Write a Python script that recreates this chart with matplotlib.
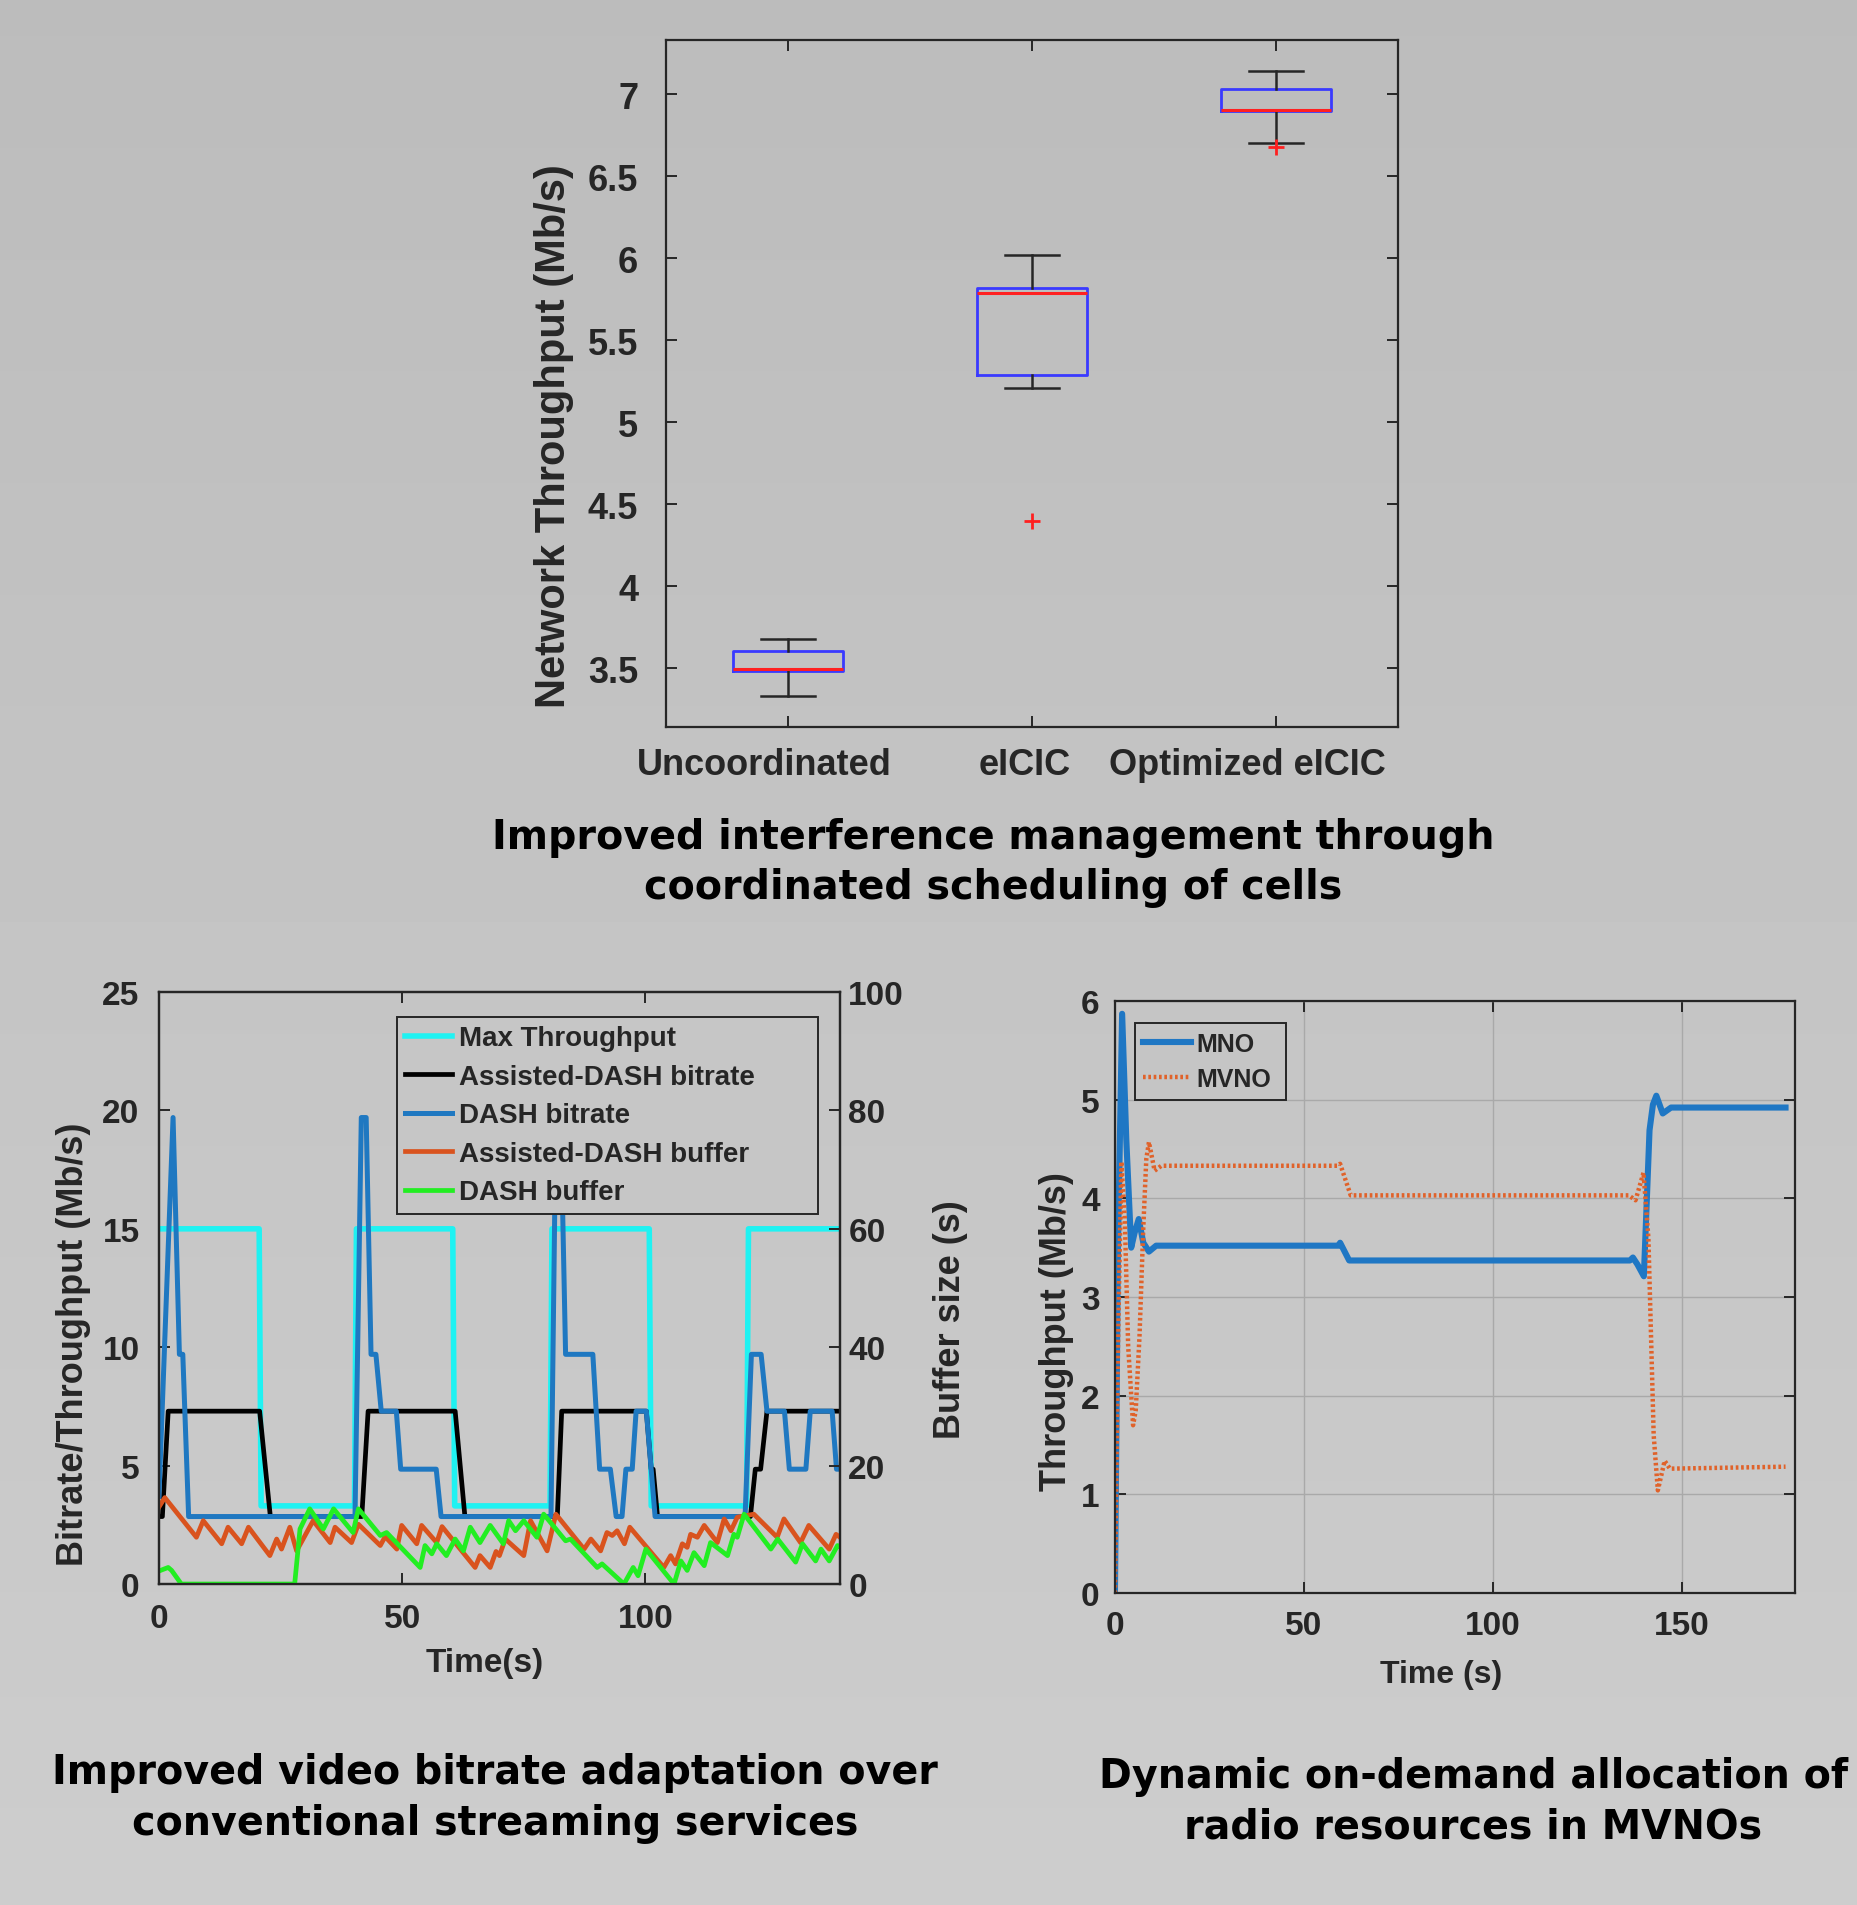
import matplotlib
matplotlib.use("Agg")
import matplotlib.pyplot as plt
import matplotlib.transforms as mtransforms
import numpy as np

# ---------------- data ----------------
# top: box plot of network throughput
box_labels = ["Uncoordinated", "eICIC", "Optimized eICIC"]
box_whislo = [3.33, 5.21, 6.70]
box_q1 = [3.48, 5.285, 6.90]
box_med = [3.495, 5.79, 6.905]
box_q3 = [3.605, 5.82, 7.03]
box_whishi = [3.675, 6.02, 7.14]
box_fliers = [[], [4.40], [6.68]]

# bottom left: DASH comparison
t_max = [0, 20.6, 21.0, 40.2, 40.6, 60.4, 60.8, 80.4, 80.8, 100.8, 101.2, 120.8, 121.2, 140]
max_tp = [15, 15, 3.3, 3.3, 15, 15, 3.3, 3.3, 15, 15, 3.3, 3.3, 15, 15]

t_ad = [0, 0.7, 1.9, 20.7, 22.9, 41.7, 43.0, 60.9, 62.9, 81.9, 82.8, 100.2, 101.2,
        101.6, 102.5, 121.6, 122.6, 123.7, 125.0, 140]
ad_bitrate = [2.85, 2.85, 7.3, 7.3, 2.85, 2.85, 7.3, 7.3, 2.85, 2.85, 7.3, 7.3, 4.85,
              4.85, 2.85, 2.85, 4.85, 4.85, 7.3, 7.3]

t_dash = [0, 2.9, 4.2, 4.9, 6.1,
          40.3, 41.6, 42.6, 43.6, 44.6, 45.7, 48.8, 49.7, 57.0, 58.0,
          80.6, 81.6, 82.6, 83.6, 89.2, 90.6, 92.8, 94.0, 95.2, 96.0, 97.3, 98.1, 100.2, 102.0,
          120.5, 121.8, 123.8, 125.0, 128.6, 129.6, 133.0, 133.9, 138.4, 139.3, 140]
dash_bitrate = [3.7, 19.7, 9.7, 9.7, 2.85,
                2.85, 19.7, 19.7, 9.7, 9.7, 7.3, 7.3, 4.85, 4.85, 2.85,
                2.85, 19.7, 19.7, 9.7, 9.7, 4.85, 4.85, 2.85, 2.85, 4.85, 4.85, 7.3, 7.3, 2.85,
                2.85, 9.7, 9.7, 7.3, 7.3, 4.85, 4.85, 7.3, 7.3, 4.85, 4.85]

t_adbuf = [0, 1.2, 7.7, 9.1, 12.9, 14.2, 17.0, 18.4, 22.8, 24.2, 25.2, 26.9, 28.3, 31.7,
           35.2, 36.2, 39.6, 41.0, 45.5, 46.5, 48.9, 49.9, 53.0, 54.0, 57.1, 58.2, 65.0,
           66.0, 68.1, 69.3, 70.0, 71.2, 75.0, 76.4, 79.8, 81.6, 87.4, 88.8, 90.8, 92.1,
           93.2, 94.2, 95.7, 96.8, 103.8, 105.2, 106.2, 107.6, 108.6, 109.3, 110.7, 112.1,
           114.8, 116.2, 117.6, 118.9, 122.3, 127.1, 128.5, 131.9, 133.6, 137.8, 139.2, 140]
ad_buffer = [13.0, 14.6, 7.9, 10.7, 6.8, 9.6, 6.8, 9.6, 4.8, 7.6, 5.9, 9.6, 5.6, 10.7,
             7.0, 9.6, 7.0, 10.1, 6.5, 8.0, 5.9, 9.9, 6.8, 9.9, 7.0, 9.7, 2.8,
             4.8, 2.8, 5.5, 4.8, 7.6, 4.8, 10.7, 5.6, 11.8, 5.9, 7.6, 5.6, 8.7,
             8.2, 9.0, 6.8, 9.6, 2.8, 4.8, 3.4, 6.8, 6.2, 8.4, 7.9, 9.9,
             7.0, 11.0, 9.0, 11.3, 11.8, 7.9, 11.0, 7.0, 9.9, 5.9, 8.4, 7.9]

t_dbuf = [0, 1.9, 2.6, 4.6, 27.9, 29.0, 31.0, 33.8, 35.9, 39.9, 41.0, 45.5, 46.8, 53.7,
          54.7, 56.1, 57.1, 59.1, 60.9, 62.6, 64.0, 66.0, 68.1, 70.8, 71.9, 73.3, 75.0,
          77.7, 79.1, 83.6, 84.6, 90.1, 91.1, 95.6, 97.5, 98.5, 100.1, 105.9, 107.3, 108.6,
          110.0, 112.1, 113.4, 116.9, 118.2, 118.9, 120.3, 125.8, 127.2, 130.9, 132.3, 135.0,
          136.1, 137.8, 139.5, 140]
dash_buffer = [2.2, 2.8, 2.3, 0, 0, 9.3, 12.7, 9.3, 12.7, 8.7, 12.7, 8.2, 8.7, 2.8,
               6.5, 5.1, 6.8, 4.8, 7.6, 5.6, 9.6, 7.0, 9.9, 6.8, 10.7, 9.0, 10.7,
               7.9, 11.8, 7.3, 7.6, 2.8, 3.4, 0, 2.8, 1.4, 5.9, 0, 3.9, 2.3,
               5.3, 3.1, 7.0, 4.8, 8.4, 7.9, 11.8, 5.9, 7.6, 3.7, 6.8, 3.9,
               5.9, 3.9, 6.5, 6.3]

# bottom right: MNO / MVNO throughput
t_mno = [0, 0.8, 1.9, 3.0, 4.3, 5.2, 6.3, 7.5, 9.0, 10.9, 59.2, 59.6, 62.0, 136.3,
         137.1, 138.3, 140.0, 141.5, 142.4, 143.3, 145.0, 147.2, 177.5]
mno = [0, 3.5, 5.87, 4.6, 3.5, 3.65, 3.79, 3.55, 3.46, 3.52, 3.52, 3.55, 3.37, 3.37,
       3.40, 3.33, 3.21, 4.69, 4.95, 5.04, 4.86, 4.92, 4.92]

t_mvno = [0, 0.8, 1.7, 2.6, 3.5, 4.8, 5.5, 6.5, 7.5, 8.3, 9.0, 10.5, 12.3, 58.8, 59.6,
          62.4, 136.0, 137.8, 139.9, 141.2, 142.6, 143.7, 145.5, 146.9, 177.5]
mvno = [0, 2.5, 4.37, 3.8, 2.5, 1.7, 1.85, 2.6, 3.7, 4.4, 4.57, 4.28, 4.33, 4.33, 4.35,
        4.03, 4.03, 3.98, 4.26, 3.6, 1.6, 1.04, 1.34, 1.26, 1.28]

# ---------------- style ----------------
tick_font = "Liberation Sans"
title_font = "DejaVu Sans"
ink = "#262626"

fig = plt.figure(figsize=(18.57, 19.06), dpi=100)

# gray gradient background
bg = fig.add_axes([0, 0, 1, 1], zorder=-10)
bg.imshow(np.linspace(0.737, 0.804, 256)[:, None], cmap="gray", vmin=0, vmax=1,
          aspect="auto", extent=(0, 1, 0, 1))
bg.set_axis_off()


def style_axes(ax, size):
    ax.set_facecolor("none")
    for sp in ax.spines.values():
        sp.set_color(ink)
        sp.set_linewidth(1.6)
    ax.tick_params(direction="in", length=8, width=1.4, colors=ink,
                   labelsize=size)
    for lab in ax.get_xticklabels() + ax.get_yticklabels():
        lab.set_fontfamily(tick_font)
        lab.set_fontweight("bold")


def title(x, y, s):
    fig.text(x, y, s, ha="center", va="center", multialignment="center",
             fontsize=28.5, fontweight="bold", fontfamily=title_font,
             color="black", linespacing=1.35)


# ---------------- top: box plot ----------------
ax = fig.add_axes([0.3586, 0.6180, 0.3942, 0.3604])
stats = []
for i in range(3):
    stats.append(dict(label=box_labels[i], whislo=box_whislo[i], q1=box_q1[i],
                      med=box_med[i], q3=box_q3[i], whishi=box_whishi[i],
                      fliers=box_fliers[i]))
ax.bxp(stats, positions=[1, 2, 3], widths=0.45, capwidths=0.22,
       boxprops=dict(color="#3a3aff", linewidth=2.0),
       medianprops=dict(color="#ff2020", linewidth=2.2),
       whiskerprops=dict(color=ink, linewidth=1.8),
       capprops=dict(color=ink, linewidth=1.8),
       flierprops=dict(marker="+", markeredgecolor="#ff2020", markersize=12,
                       markeredgewidth=2))
ax.set_xlim(0.5, 3.5)
ax.set_ylim(3.14, 7.33)
ax.set_yticks([3.5, 4, 4.5, 5, 5.5, 6, 6.5, 7])
ax.set_yticklabels(["3.5", "4", "4.5", "5", "5.5", "6", "6.5", "7"])
ax.set_xticks([1, 2, 3])
ax.set_xticklabels(box_labels)
style_axes(ax, 26)
ax.tick_params(top=True, right=True)
ax.tick_params(axis="x", pad=14)
ax.tick_params(axis="y", pad=20)
# matlab places these labels a little left of their ticks
for lab, dx in zip(ax.get_xticklabels(), [-24, -7, -29]):
    lab.set_transform(lab.get_transform() +
                      mtransforms.ScaledTranslation(dx / 100, 0, fig.dpi_scale_trans))
ax.set_ylabel("Network Throughput (Mb/s)", fontsize=30, fontweight="bold",
              fontfamily=tick_font, color=ink)
ax.yaxis.set_label_coords(-0.125, 0.425)

title(0.5347, 0.5472,
      "Improved interference management through\ncoordinated scheduling of cells")

# ---------------- bottom left: DASH ----------------
ax = fig.add_axes([0.0856, 0.1684, 0.3667, 0.3106])
l1, = ax.plot(t_max, max_tp, color="#1ff2f2", linewidth=4.0, label="Max Throughput")
l2, = ax.plot(t_ad, ad_bitrate, color="black", linewidth=3.4,
              label="Assisted-DASH bitrate")
l3, = ax.plot(t_dash, dash_bitrate, color="#1f78c1", linewidth=3.6, label="DASH bitrate")
ax.set_xlim(0, 140)
ax.set_ylim(0, 25)
ax.set_xticks([0, 50, 100])
ax.set_yticks([0, 5, 10, 15, 20, 25])
style_axes(ax, 24)
ax.tick_params(top=True, right=False)
ax.tick_params(axis="x", pad=14)
ax.tick_params(axis="y", pad=14)
ax.set_xlabel("Time(s)", fontsize=24, fontweight="bold", fontfamily=tick_font, color=ink)
ax.xaxis.set_label_coords(0.479, -0.107)
ax.set_ylabel("Bitrate/Throughput (Mb/s)", fontsize=26, fontweight="bold",
              fontfamily=tick_font, color=ink)
ax.yaxis.set_label_coords(-0.10, 0.407)

ax2 = ax.twinx()
l4, = ax2.plot(t_adbuf, ad_buffer, color="#d9531e", linewidth=3.4,
               label="Assisted-DASH buffer")
l5, = ax2.plot(t_dbuf, dash_buffer, color="#22ee22", linewidth=3.4, label="DASH buffer")
ax2.set_ylim(0, 100)
ax2.set_yticks([0, 20, 40, 60, 80, 100])
style_axes(ax2, 24)
ax2.tick_params(axis="y", pad=6)
ax2.set_ylabel("Buffer size (s)", fontsize=26, fontweight="bold", fontfamily=tick_font,
               color=ink)
ax2.yaxis.set_label_coords(1.137, 0.449)
leg = ax2.legend(handles=[l1, l2, l3, l4, l5], loc="upper left",
                 bbox_to_anchor=(0.349, 0.628, 0.619, 0.330), mode="expand",
                 borderaxespad=0, fancybox=False, framealpha=1, facecolor="#c6c6c6",
                 edgecolor=ink, handlelength=1.7, handletextpad=0.25, labelspacing=0.45,
                 borderpad=0.3, prop=dict(family=tick_font, weight="bold", size=20))
leg.get_frame().set_linewidth(1.4)
for txt in leg.get_texts():
    txt.set_color(ink)

title(0.2666, 0.0564,
      "Improved video bitrate adaptation over\nconventional streaming services")

# ---------------- bottom right: MNO / MVNO ----------------
ax = fig.add_axes([0.6004, 0.1637, 0.3662, 0.3106])
ax.grid(True, color="#a9a9a9", linewidth=1.0)
ax.set_axisbelow(True)
m1, = ax.plot(t_mno, mno, color="#1f77c4", linewidth=4.4, label="MNO")
m2, = ax.plot(t_mvno, mvno, color="#e0622a", linewidth=3.2, linestyle=(0, (0.6, 0.6)),
              label="MVNO")
ax.set_xlim(0, 180)
ax.set_ylim(0, 6)
ax.set_xticks([0, 50, 100, 150])
ax.set_yticks([0, 1, 2, 3, 4, 5, 6])
style_axes(ax, 24)
ax.tick_params(top=True, right=True)
ax.tick_params(axis="x", pad=12)
ax.tick_params(axis="y", pad=11)
ax.set_xlabel("Time (s)", fontsize=23, fontweight="bold", fontfamily=tick_font, color=ink)
ax.xaxis.set_label_coords(0.48, -0.111)
ax.set_ylabel("Throughput (Mb/s)", fontsize=26, fontweight="bold", fontfamily=tick_font,
              color=ink)
ax.yaxis.set_label_coords(-0.06, 0.443)
leg = ax.legend(handles=[m1, m2], loc="upper left",
                bbox_to_anchor=(0.029, 0.80, 0.222, 0.163), mode="expand",
                borderaxespad=0, fancybox=False, framealpha=1, facecolor="#c5c5c5",
                edgecolor=ink, handlelength=1.9, handletextpad=0.2, labelspacing=0.45,
                borderpad=0.35, prop=dict(family=tick_font, weight="bold", size=18))
leg.get_frame().set_linewidth(1.4)
for txt in leg.get_texts():
    txt.set_color(ink)

title(0.7935, 0.0546, "Dynamic on-demand allocation of\nradio resources in MVNOs")

fig.savefig("out.png", dpi=100)
